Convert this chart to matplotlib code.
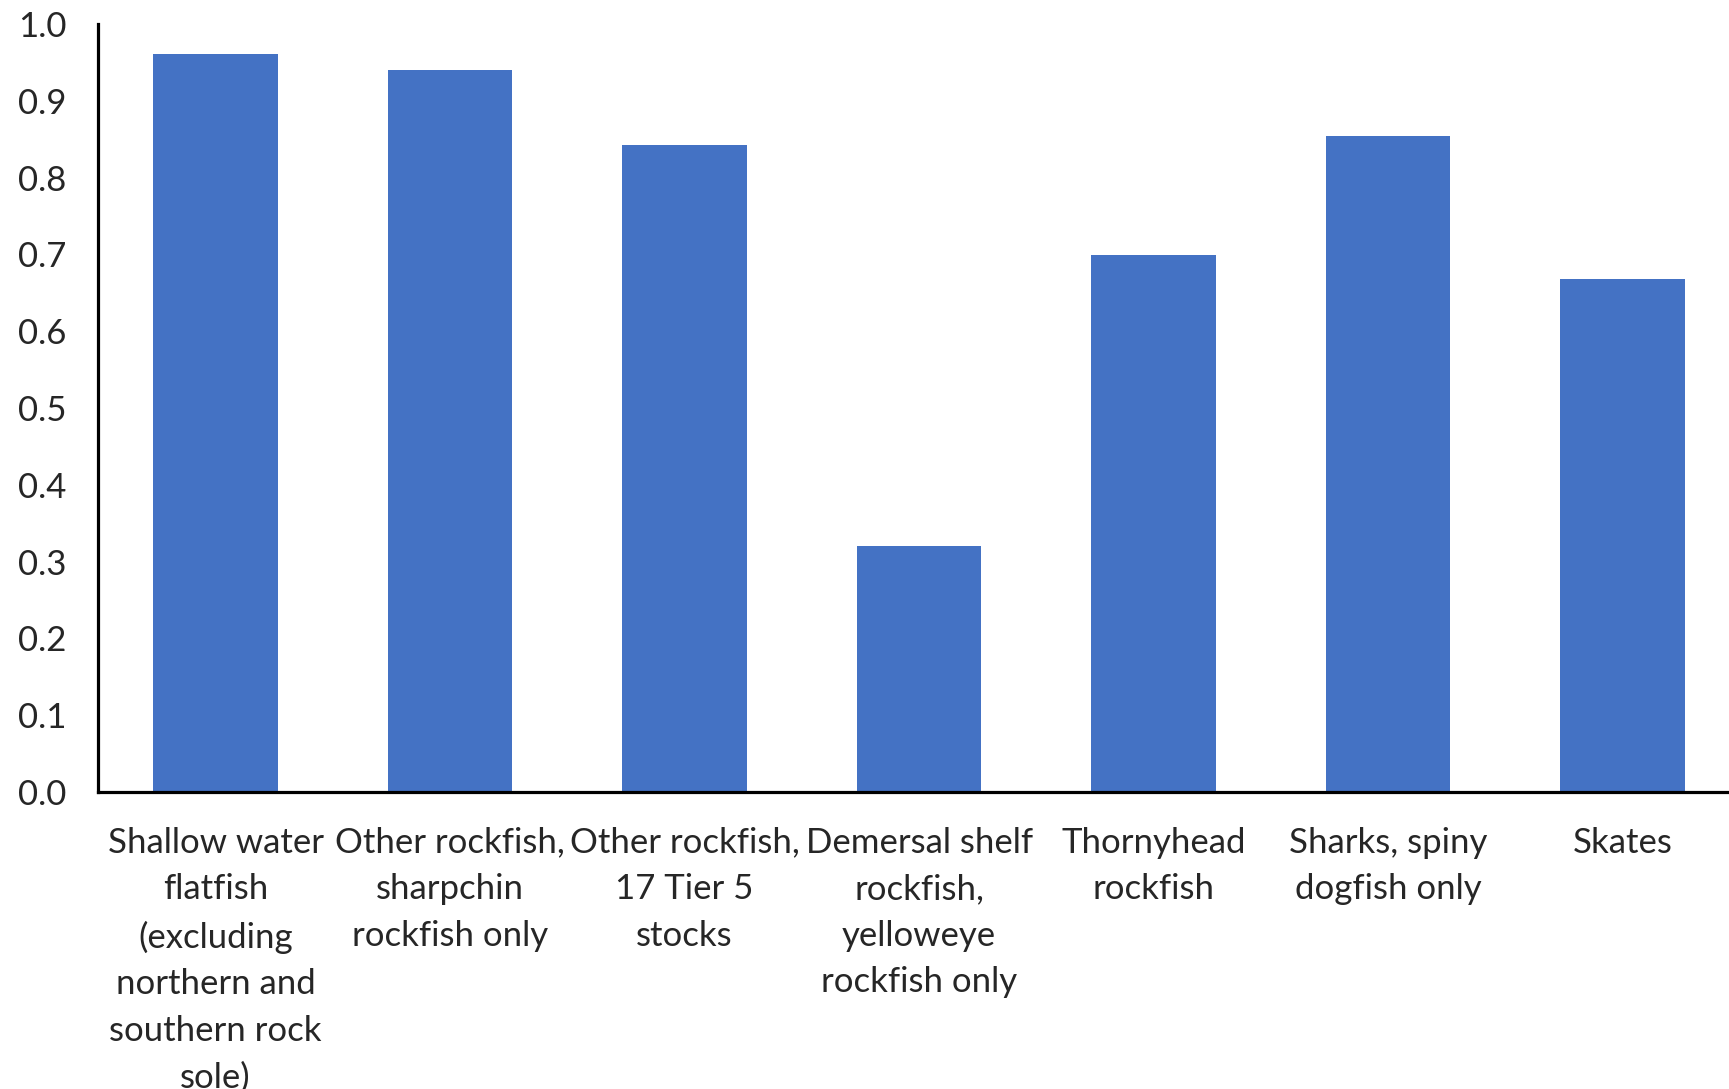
import matplotlib
matplotlib.use("Agg")
import matplotlib.pyplot as plt

categories = [
    "Shallow water\nflatfish\n(excluding\nnorthern and\nsouthern rock\nsole)",
    "Other rockfish,\nsharpchin\nrockfish only",
    "Other rockfish,\n17 Tier 5\nstocks",
    "Demersal shelf\nrockfish,\nyelloweye\nrockfish only",
    "Thornyhead\nrockfish",
    "Sharks, spiny\ndogfish only",
    "Skates",
]
values = [0.961, 0.940, 0.843, 0.320, 0.699, 0.854, 0.668]
yticks = [0.0, 0.1, 0.2, 0.3, 0.4, 0.5, 0.6, 0.7, 0.8, 0.9, 1.0]

plt.rcParams["font.family"] = ["Lato", "DejaVu Sans"]
text_color = "#262626"

fig = plt.figure(figsize=(17.29, 10.89), dpi=100)
# axis runs a little past the right edge, like the source image
ax = fig.add_axes([98.3 / 1729, 1 - 792 / 1089, (1740 - 98.3) / 1729, (792 - 24) / 1089])

x = list(range(len(categories)))
ax.bar(x, values, width=0.531, color="#4472C4", zorder=2)

ax.set_xlim(-0.5, len(categories) - 0.5)
ax.set_ylim(0, 1.0)
ax.set_yticks(yticks)
ax.set_yticklabels([f"{v:.1f}" for v in yticks])
ax.set_xticks(x)
ax.set_xticklabels(categories, linespacing=1.56)

for side in ["top", "right"]:
    ax.spines[side].set_visible(False)
for side in ["left", "bottom"]:
    ax.spines[side].set_linewidth(2.3)
    ax.spines[side].set_color("black")

ax.tick_params(axis="both", length=0, labelsize=25, colors=text_color)
ax.tick_params(axis="y", pad=23)
ax.tick_params(axis="x", pad=25)

fig.savefig("out.png", dpi=100)
